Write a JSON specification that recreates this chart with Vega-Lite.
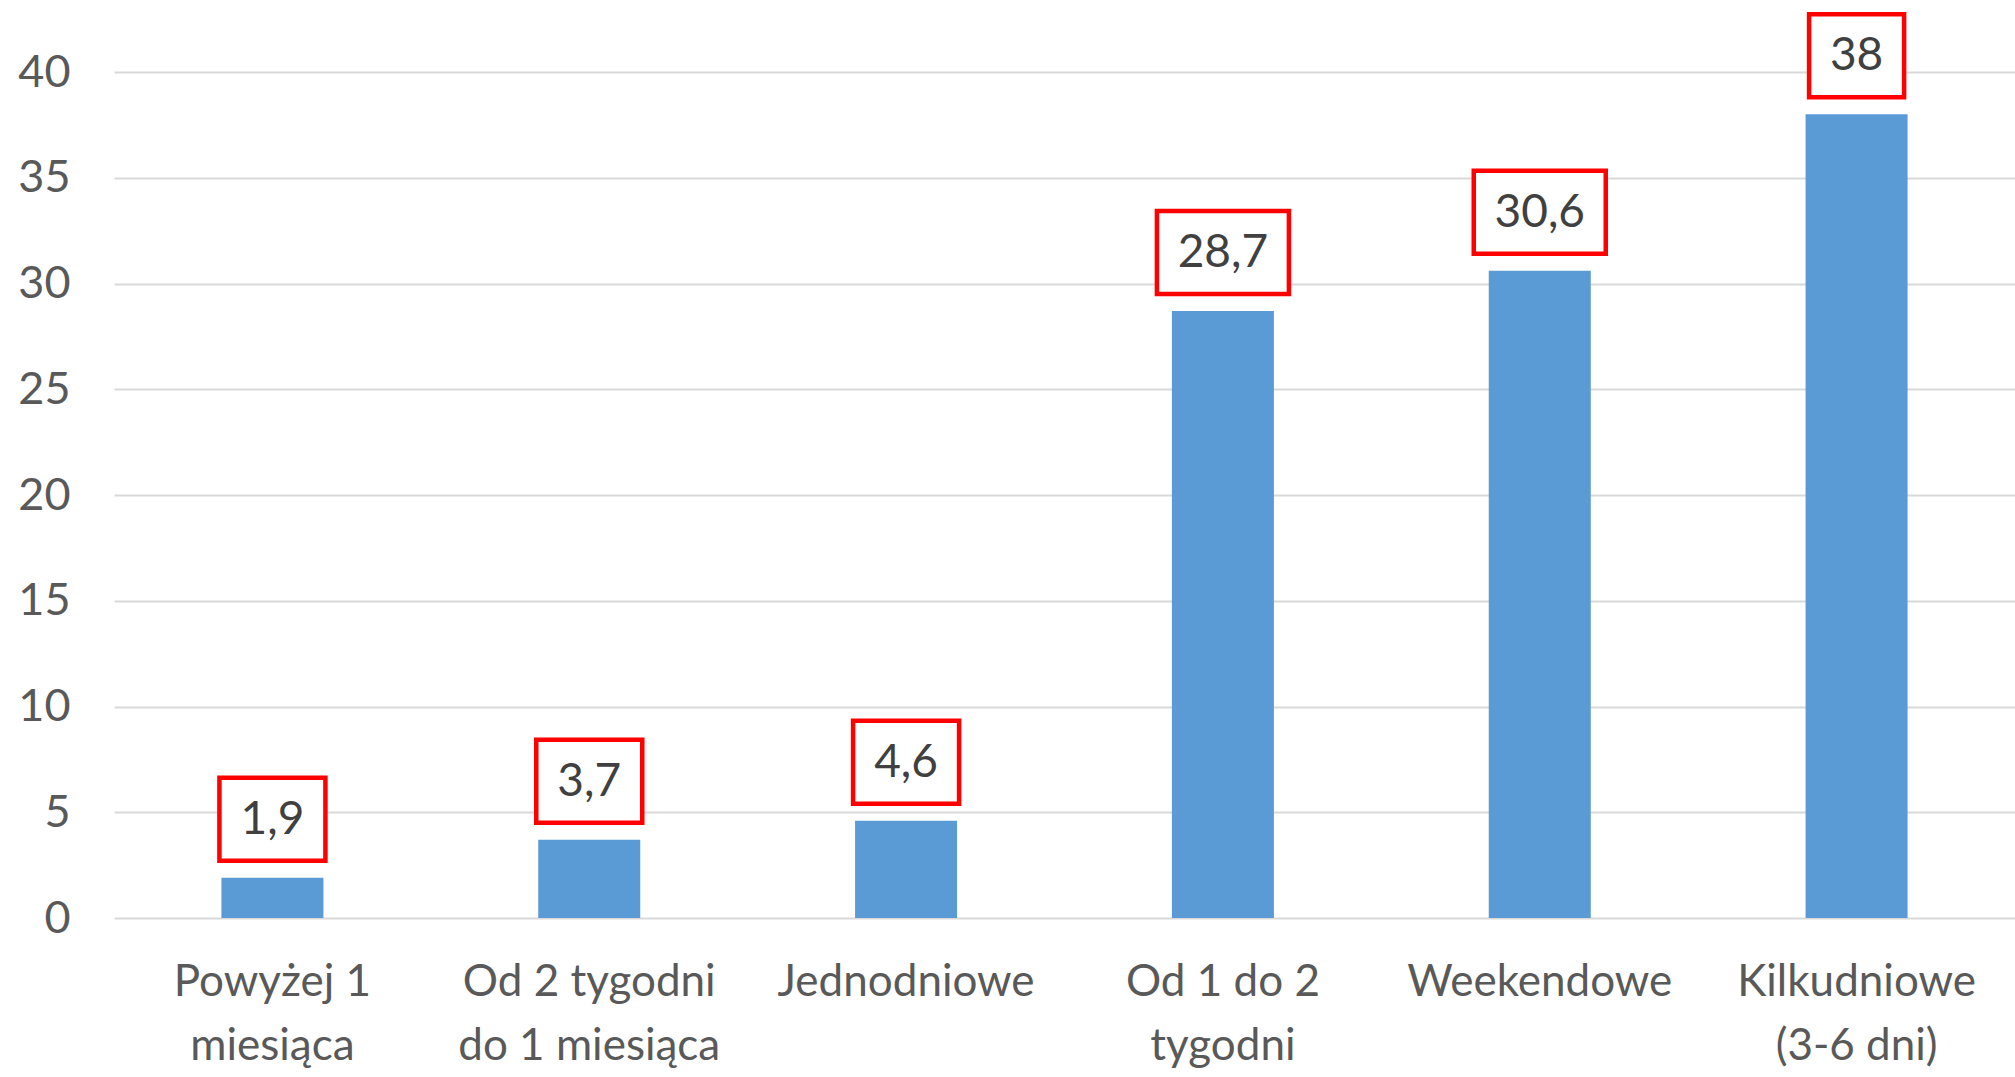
{
  "$schema": "https://vega.github.io/schema/vega-lite/v6.json",
  "width": 1901,
  "height": 846,
  "autosize": {"type": "none"},
  "padding": {"left": 114, "top": 72, "right": 0, "bottom": 159},
  "background": "white",
  "config": {
    "view": {"stroke": null},
    "font": "Lato",
    "axis": {"labelFont": "Lato", "labelColor": "#595959", "labelFontSize": 44}
  },
  "data": {
    "values": [
      {"kategoria": "Powyżej 1|miesiąca", "wartosc": 1.9, "etykieta": "1,9"},
      {"kategoria": "Od 2 tygodni|do 1 miesiąca", "wartosc": 3.7, "etykieta": "3,7"},
      {"kategoria": "Jednodniowe", "wartosc": 4.6, "etykieta": "4,6"},
      {"kategoria": "Od 1 do 2|tygodni", "wartosc": 28.7, "etykieta": "28,7"},
      {"kategoria": "Weekendowe", "wartosc": 30.6, "etykieta": "30,6"},
      {"kategoria": "Kilkudniowe|(3-6 dni)", "wartosc": 38, "etykieta": "38"}
    ]
  },
  "encoding": {
    "x": {
      "field": "kategoria",
      "type": "nominal",
      "sort": null,
      "scale": {"paddingInner": 0.678, "paddingOuter": 0.339},
      "axis": {
        "title": null,
        "labelAngle": 0,
        "domain": false,
        "ticks": false,
        "labelPadding": 42,
        "labelBaseline": "top",
        "labelLineHeight": 64,
        "labelLimit": 600,
        "labelOverlap": false,
        "labelFontSize": 44,
        "labelExpr": "split(datum.value, '|')"
      }
    },
    "y": {
      "field": "wartosc",
      "type": "quantitative",
      "scale": {"domain": [0, 40], "nice": false},
      "axis": {
        "title": null,
        "values": [0, 5, 10, 15, 20, 25, 30, 35, 40],
        "domain": false,
        "ticks": false,
        "labelPadding": 44,
        "labelFontSize": 45,
        "grid": true,
        "gridColor": "#D9D9D9",
        "gridWidth": 2
      }
    }
  },
  "layer": [
    {"mark": {"type": "bar", "color": "#5B9BD5"}},
    {
      "transform": [{"filter": "length(datum.etykieta) == 3"}],
      "mark": {"type": "bar", "width": 106, "fill": "white", "stroke": "#FF0000", "strokeWidth": 4.5, "yOffset": -100, "y2Offset": -17},
      "encoding": {"y2": {"field": "wartosc"}}
    },
    {
      "transform": [{"filter": "length(datum.etykieta) == 4"}],
      "mark": {"type": "bar", "width": 132, "fill": "white", "stroke": "#FF0000", "strokeWidth": 4.5, "yOffset": -100, "y2Offset": -17},
      "encoding": {"y2": {"field": "wartosc"}}
    },
    {
      "transform": [{"filter": "length(datum.etykieta) == 2"}],
      "mark": {"type": "bar", "width": 95, "fill": "white", "stroke": "#FF0000", "strokeWidth": 4.5, "yOffset": -100, "y2Offset": -17},
      "encoding": {"y2": {"field": "wartosc"}}
    },
    {
      "mark": {"type": "text", "font": "Lato", "fontSize": 46, "color": "#404040", "baseline": "middle", "align": "center", "yOffset": -58},
      "encoding": {"text": {"field": "etykieta"}}
    }
  ]
}
